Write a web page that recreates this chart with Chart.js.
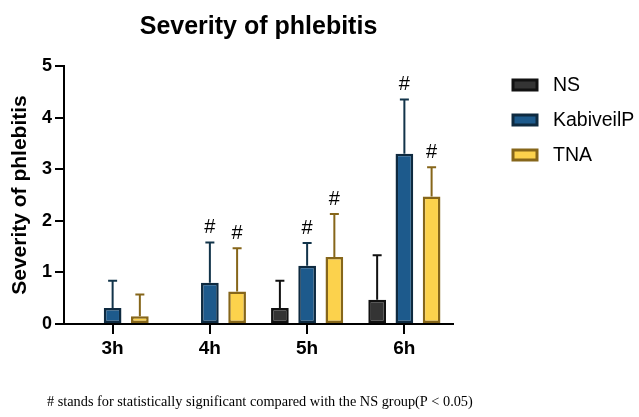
<!DOCTYPE html>
<html>
<head>
<meta charset="utf-8">
<title>Severity of phlebitis</title>
<script src="https://cdn.jsdelivr.net/npm/chart.js@4.4.1/dist/chart.umd.min.js"></script>
<style>
  html, body { margin: 0; padding: 0; background: #fff; }
  #wrap { width: 639px; height: 417px; }
</style>
</head>
<body>
<div id="wrap"><canvas id="myChart" width="639" height="417"></canvas></div>
<script>
// values (mean and one-sided SD)
const timePoints = ["3h", "4h", "5h", "6h"];
const groupNames = ["NS", "KabiveilP", "TNA"];
const nsMean = [0, 0, 0.31, 0.47];
const nsSd = [0, 0, 0.53, 0.86];
const kabiveilMean = [0.31, 0.80, 1.13, 3.30];
const kabiveilSd = [0.53, 0.78, 0.44, 1.05];
const tnaMean = [0.15, 0.63, 1.30, 2.47];
const tnaSd = [0.42, 0.84, 0.83, 0.57];
// "#" = significant vs NS
const nsSig = [false, false, false, false];
const kabiveilSig = [false, true, true, true];
const tnaSig = [false, true, true, true];
const yTicks = [0, 1, 2, 3, 4, 5];
const footnote = "# stands for statistically significant compared with the NS group(P < 0.05)";

Chart.defaults.font.family = "'Liberation Sans', Arial, sans-serif";
Chart.defaults.color = "#000";

// error bars (upper only) + "#" marks
const errorBars = {
  id: "errorBars",
  afterDatasetsDraw(chart) {
    const { ctx } = chart;
    const yScale = chart.scales.y;
    chart.data.datasets.forEach((ds, i) => {
      const meta = chart.getDatasetMeta(i);
      meta.data.forEach((bar, j) => {
        const mean = ds.data[j];
        const sd = ds.sd[j];
        const yTop = yScale.getPixelForValue(mean + sd);
        ctx.save();
        if (sd > 0) {
          ctx.strokeStyle = ds.errorColor;
          ctx.lineWidth = 2;
          ctx.beginPath();
          ctx.moveTo(bar.x, bar.y);
          ctx.lineTo(bar.x, yTop);
          ctx.moveTo(bar.x - 4.5, yTop);
          ctx.lineTo(bar.x + 4.5, yTop);
          ctx.stroke();
        }
        if (ds.sig[j]) {
          ctx.fillStyle = "#000";
          ctx.font = "20px 'Liberation Sans', Arial, sans-serif";
          ctx.textAlign = "center";
          ctx.textBaseline = "bottom";
          ctx.fillText("#", bar.x, yTop - 5);
        }
        ctx.restore();
      });
    });
  },
};

// legend on the right and footnote under the chart
const sideLegend = {
  id: "sideLegend",
  afterDraw(chart) {
    const { ctx } = chart;
    ctx.save();
    chart.data.datasets.forEach((ds, i) => {
      const cy = 85 + i * 35;
      ctx.fillStyle = ds.backgroundColor;
      ctx.strokeStyle = ds.borderColor;
      ctx.lineWidth = 3;
      ctx.fillRect(513, cy - 5, 24, 10);
      ctx.strokeRect(513, cy - 5, 24, 10);
      ctx.fillStyle = "#000";
      ctx.font = "19.5px 'Liberation Sans', Arial, sans-serif";
      ctx.textAlign = "left";
      ctx.textBaseline = "middle";
      ctx.fillText(ds.label, 553, cy + 1);
    });
    ctx.font = "14.3px 'Liberation Serif', 'Times New Roman', serif";
    ctx.textBaseline = "middle";
    ctx.fillText(footnote, 47, 402);
    ctx.restore();
  },
};

const ctx = document.getElementById("myChart").getContext("2d");

const myChart = new Chart(ctx, {
  type: "bar",
  data: {
    labels: timePoints,
    datasets: [
      {
        label: groupNames[0],
        data: nsMean,
        sd: nsSd,
        sig: nsSig,
        backgroundColor: "#343434",
        borderColor: "#111111",
        errorColor: "#111111",
      },
      {
        label: groupNames[1],
        data: kabiveilMean,
        sd: kabiveilSd,
        sig: kabiveilSig,
        backgroundColor: "#1d5a8c",
        borderColor: "#0e2a40",
        errorColor: "#12344a",
      },
      {
        label: groupNames[2],
        data: tnaMean,
        sd: tnaSd,
        sig: tnaSig,
        backgroundColor: "#fcd24c",
        borderColor: "#86661a",
        errorColor: "#86661a",
      },
    ],
  },
  options: {
    responsive: false,
    animation: false,
    datasets: {
      bar: {
        categoryPercentage: 0.84,
        barPercentage: 0.65,
        borderSkipped: false,
        borderWidth: (c) => (c.raw > 0 ? 2.5 : 0),
      },
    },
    layout: { padding: { left: 0, right: 186, top: 0, bottom: 0 } },
    scales: {
      x: {
        ticks: { font: { size: 19, weight: "bold" }, color: "#000", padding: 3 },
        grid: {
          offset: false,
          drawOnChartArea: false,
          tickLength: 10,
          color: "#000",
          lineWidth: 2,
        },
        border: { color: "#000", width: 2 },
        afterFit: (s) => { s.height = 93; },
      },
      y: {
        min: 0,
        max: 5,
        afterBuildTicks: (s) => { s.ticks = yTicks.map((v) => ({ value: v })); },
        ticks: { font: { size: 18, weight: "bold" }, color: "#000", padding: 3 },
        grid: {
          drawOnChartArea: false,
          tickLength: 9,
          color: "#000",
          lineWidth: 2,
        },
        border: { color: "#000", width: 2 },
        title: {
          display: true,
          text: "Severity of phlebitis",
          font: { size: 21, weight: "bold" },
          color: "#000",
          padding: { top: 8, bottom: 0 },
        },
        afterFit: (s) => { s.width = 64; },
      },
    },
    plugins: {
      legend: { display: false },
      tooltip: { enabled: false },
      title: {
        display: true,
        text: "Severity of phlebitis",
        fullSize: false,
        font: { size: 25, weight: "bold" },
        color: "#000",
        padding: { top: 12, bottom: 24 },
      },
    },
  },
  plugins: [errorBars, sideLegend],
});
</script>
</body>
</html>
